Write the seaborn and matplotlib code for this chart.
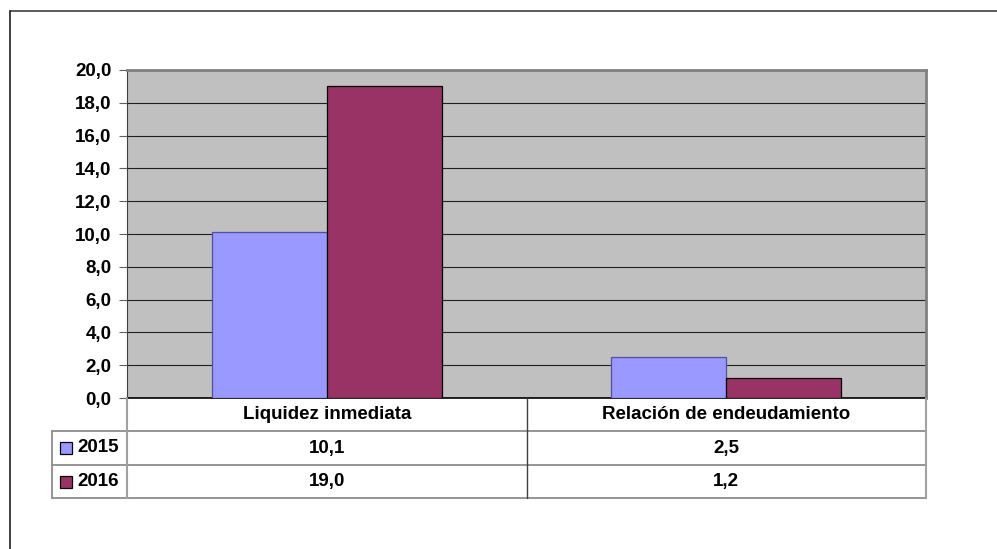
import matplotlib
matplotlib.use("Agg")
import matplotlib.pyplot as plt
from matplotlib.patches import Rectangle
from matplotlib.lines import Line2D
import pandas as pd
import seaborn as sns

# Data
categories = ["Liquidez inmediata", "Relación de endeudamiento"]
years = ["2015", "2016"]
values_2015 = [10.1, 2.5]
values_2016 = [19.0, 1.2]
y_ticks = [0, 2, 4, 6, 8, 10, 12, 14, 16, 18, 20]

colors = {"2015": "#9999FF", "2016": "#993366"}
edge_colors = {"2015": "#5050A0", "2016": "black"}

df = pd.DataFrame({
    "categoria": categories * 2,
    "year": [years[0]] * 2 + [years[1]] * 2,
    "valor": values_2015 + values_2016,
})

sns.set_theme(style="white")
plt.rcParams["font.family"] = ["Liberation Sans", "DejaVu Sans"]
plt.rcParams["font.weight"] = "bold"
plt.rcParams["text.color"] = "black"
plt.rcParams["ytick.labelcolor"] = "black"
FS = 13.5

W, H = 997, 549
fig = plt.figure(figsize=(W / 100, H / 100), dpi=100)
fig.patch.set_facecolor("white")

# plot area in pixels
x0, x1, y_top, y_bot = 127, 926, 70, 398
ax = fig.add_axes([x0 / W, 1 - y_bot / H, (x1 - x0) / W, (y_bot - y_top) / H])
ax.set_facecolor("#C0C0C0")

sns.barplot(data=df, x="categoria", y="valor", hue="year", hue_order=years,
            palette=colors, saturation=1, width=0.576, edgecolor="black",
            linewidth=0.9, ax=ax, legend=False, zorder=3)
# first hue's bars get a softer edge, as in the reference
for container, yr in zip(ax.containers, years):
    for bar in container:
        bar.set_edgecolor(edge_colors[yr])

ax.set_ylim(0, 20)
ax.set_xlim(-0.5, len(categories) - 0.5)
ax.set_yticks(y_ticks)
ax.set_yticklabels([f"{v:.1f}".replace(".", ",") for v in y_ticks],
                   fontsize=FS, fontweight="bold", color="black")
ax.set_xticks([])
ax.set_xlabel("")
ax.set_ylabel("")
ax.yaxis.grid(True, color="#202020", linewidth=0.8, zorder=0)
ax.set_axisbelow(True)
ax.tick_params(axis="y", length=6, width=0.8, color="#606060", pad=5, left=True)
for side in ["top", "right"]:
    ax.spines[side].set_color("#808080")
    ax.spines[side].set_linewidth(2)
ax.spines["left"].set_color("#404040")
ax.spines["left"].set_linewidth(0.8)
ax.spines["bottom"].set_color("black")
ax.spines["bottom"].set_linewidth(1.2)


# data table below the plot, in pixel coordinates of the figure
def px(x, y):
    return (x / W, 1 - y / H)


rows = [398, 431, 465, 498]
col_edges = [x0] + [x0 + (x1 - x0) * (i + 1) / len(categories) for i in range(len(categories))]
legend_left = 52
line_kw = dict(transform=fig.transFigure, color="#8C8C8C", linewidth=1.3)

for y in rows[1:]:
    fig.add_artist(Line2D([legend_left / W, x1 / W], [1 - y / H] * 2, **line_kw))
for i, x in enumerate(col_edges):
    inner = 0 < i < len(col_edges) - 1
    fig.add_artist(Line2D([x / W] * 2, [1 - rows[0] / H, 1 - rows[-1] / H],
                          transform=fig.transFigure,
                          color="#404040" if inner else "#A0A0A0",
                          linewidth=1.0 if inner else 1.5))
fig.add_artist(Line2D([legend_left / W] * 2, [1 - rows[1] / H, 1 - rows[-1] / H],
                      transform=fig.transFigure, color="#8C8C8C", linewidth=1.3))

# category header row
for i, cat in enumerate(categories):
    cx = (col_edges[i] + col_edges[i + 1]) / 2
    fig.text(*px(cx, (rows[0] + rows[1]) / 2), cat, ha="center", va="center",
             fontsize=FS, fontweight="bold")

# value rows
for r, (yr, vals) in enumerate(zip(years, [values_2015, values_2016])):
    cy = (rows[r + 1] + rows[r + 2]) / 2
    fig.add_artist(Rectangle(px(60, cy + 6), 12 / W, 12 / H, transform=fig.transFigure,
                             facecolor=colors[yr], edgecolor="black", linewidth=0.9))
    fig.text(*px(77, cy), yr, ha="left", va="center", fontsize=FS, fontweight="bold")
    for i, v in enumerate(vals):
        cx = (col_edges[i] + col_edges[i + 1]) / 2
        fig.text(*px(cx, cy), f"{v:.1f}".replace(".", ","), ha="center", va="center",
                 fontsize=FS, fontweight="bold")

# outer chart border (only top and left visible in the crop)
fig.add_artist(Line2D([10 / W, 1.0], [1 - 11 / H] * 2, transform=fig.transFigure,
                      color="#404040", linewidth=1.2))
fig.add_artist(Line2D([10 / W] * 2, [1 - 11 / H, 0.0], transform=fig.transFigure,
                      color="#202020", linewidth=1.2))

fig.savefig("out.png", dpi=100)
